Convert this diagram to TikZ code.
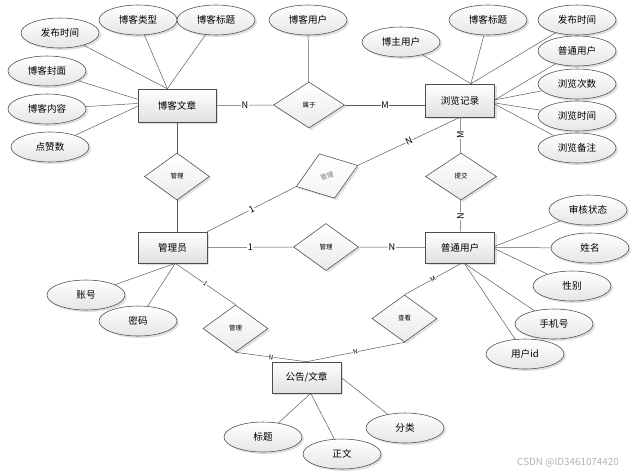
\documentclass[tikz,border=0pt]{standalone}
\usepackage{fontspec}
\setmainfont{Noto Sans CJK SC}
\usetikzlibrary{shapes.geometric,shadows}

\tikzset{
  base/.style={draw=black!70,top color=white,bottom color=black!12,
    drop shadow={opacity=.25,shadow xshift=.5mm,shadow yshift=-.5mm},inner sep=0pt},
  ent/.style={base,rectangle,minimum width=17.25mm,minimum height=7.75mm,
    font=\fontsize{6.8}{8}\selectfont},
  attr/.style={base,ellipse,bottom color=black!10,minimum width=19.5mm,minimum height=7.5mm,
    font=\fontsize{6.8}{8}\selectfont},
  rel/.style={base,diamond,bottom color=black!8,minimum width=16.25mm,minimum height=11.75mm,
    font=\fontsize{4.6}{5}\selectfont},
  lnk/.style={draw=black!65,line width=.35pt},
  card/.style={fill=white,inner sep=.4pt,font=\fontsize{6.5}{7}\selectfont},
  smallcard/.style={fill=white,inner sep=.3pt,font=\fontsize{4.5}{5}\selectfont}
}

\begin{document}
\begin{tikzpicture}[x=.25mm,y=-.25mm]
  \useasboundingbox (0,0) rectangle (639,474);
  % entities
  \node[ent,minimum width=19.5mm,minimum height=8.25mm] (bkwz) at (177,105.5) {博客文章};
  \node[ent,minimum height=8.25mm] (lljl) at (460,100.5) {浏览记录};
  \node[ent] (gly) at (172.5,247.5) {管理员};
  \node[ent] (ptyh) at (460,247.5) {普通用户};
  \node[ent] (gg) at (306.5,377.5) {公告/文章};
  % relations
  \node[rel,minimum width=17.75mm,minimum height=11.5mm] (sy) at (309,105) {属于};
  \node[rel] (gl1) at (177,176.5) {管理};
  \node[rel,minimum width=17.75mm] (tj) at (461,176.5) {提交};
  \node[rel] (gl2) at (326,247) {管理};
  \node[rel,rotate=19,bottom color=black!4,text=black!55] (gl3) at (327,176) {管理};
  \node[rel] (gl4) at (235.5,328.5) {管理};
  \node[rel] (ck) at (404.5,318.5) {查看};
  % attributes
  \node[attr] (fbsj1) at (60,33) {发布时间};
  \node[attr] (bklx) at (138,20) {博客类型};
  \node[attr] (bkbt1) at (216,20) {博客标题};
  \node[attr] (bkfm) at (47,71) {博客封面};
  \node[attr] (bknr) at (47,109) {博客内容};
  \node[attr] (dzs) at (50,147) {点赞数};
  \node[attr] (bkyh) at (308,20) {博客用户};
  \node[attr] (bzyh) at (401,42) {博主用户};
  \node[attr] (bkbt2) at (488,20) {博客标题};
  \node[attr] (fbsj2) at (577,20) {发布时间};
  \node[attr] (ptyh2) at (577,51) {普通用户};
  \node[attr] (llcs) at (577,84) {浏览次数};
  \node[attr] (llsj) at (577,116) {浏览时间};
  \node[attr] (llbz) at (577,148) {浏览备注};
  \node[attr] (shzt) at (588,210) {审核状态};
  \node[attr] (xm) at (590,248) {姓名};
  \node[attr] (xb) at (572,286) {性别};
  \node[attr] (sjh) at (554,324) {手机号};
  \node[attr] (yhid) at (525,354) {用户id};
  \node[attr] (zh) at (86,295) {账号};
  \node[attr] (mm) at (138,321) {密码};
  \node[attr] (bt) at (263,437) {标题};
  \node[attr] (zw) at (342,454) {正文};
  \node[attr] (fl) at (405,428) {分类};
  % attribute links
  \foreach \a/\b in {fbsj1/bkwz.120,bklx/bkwz.120,bkbt1/bkwz.120,bkfm/bkwz.171,
      bknr/bkwz.177,dzs/bkwz.181,bzyh/lljl.57,bkbt2/lljl.57,fbsj2/lljl.57,
      ptyh2/lljl.1,llcs/lljl.1,llsj/lljl.-4,llbz/lljl.-6,shzt/ptyh.2,
      xm/ptyh.east,xb/ptyh.-2,sjh/ptyh.-75,yhid/ptyh.-75,zh/gly.-80,
      mm/gly.-80,bt/gg.-75,zw/gg.-75,fl/gg.east}
    \draw[lnk] (\a) -- (\b);
  % relation links
  \draw[lnk] (bkyh) -- (sy);
  \draw[lnk] (bkwz) -- node[card]{N} (sy);
  \draw[lnk] (sy.east) -- node[card]{M} (sy.east -| lljl.west);
  \draw[lnk] (bkwz) -- (gl1);
  \draw[lnk] (gl1) -- (gl1 |- gly.north);
  \draw[lnk] (gly.north east) -- node[card,sloped]{1} (gl3.west);
  \draw[lnk] (gl3.east) -- node[card,sloped]{N} (lljl.south);
  \draw[lnk] (lljl) -- node[card,rotate=90]{M} (tj);
  \draw[lnk] (tj) -- node[card,rotate=90]{N} (ptyh);
  \draw[lnk] (gly) -- node[card]{1} (gl2);
  \draw[lnk] (gl2) -- node[card]{N} (ptyh);
  \draw[lnk] (gly.-80) -- node[smallcard,sloped]{1} (gl4.north);
  \draw[lnk] (gl4.south) -- node[smallcard,sloped]{N} (gg.north);
  \draw[lnk] (ck.south) -- node[smallcard,sloped]{N} (gg.north);
  \draw[lnk] (ck.north) -- node[smallcard,sloped]{M} (ptyh.-85);
  \node[text=black!30,font=\fontsize{7}{8}\selectfont] (wm) at (568,463) {CSDN @ID3461074420};
\end{tikzpicture}
\end{document}
